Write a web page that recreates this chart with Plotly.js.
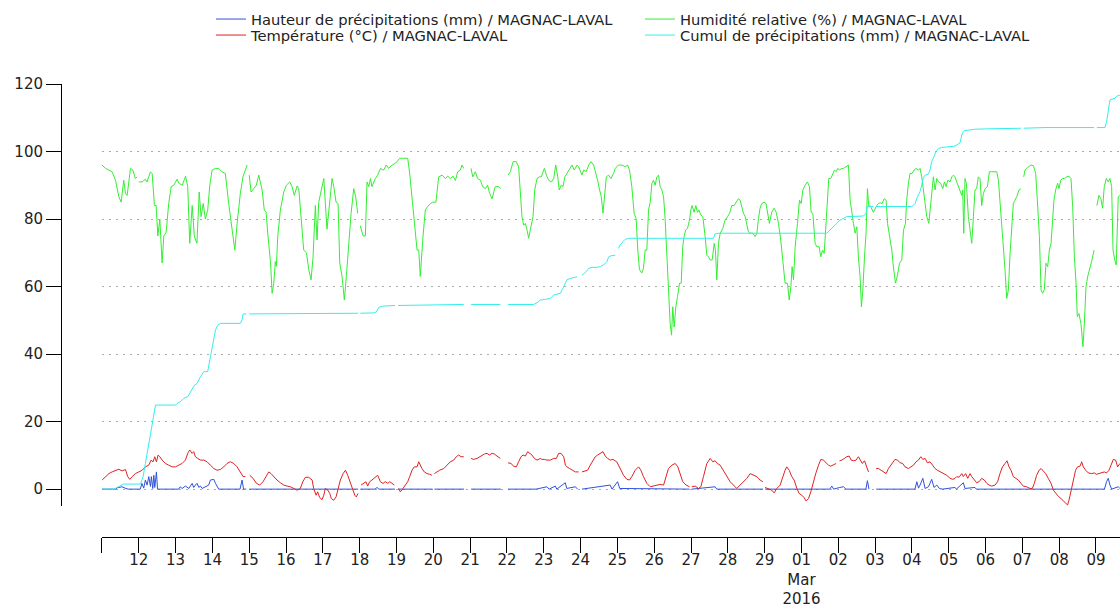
<!DOCTYPE html>
<html>
<head>
<meta charset="utf-8">
<script src="https://cdn.plot.ly/plotly-3.0.1.min.js"></script>
<style>
  html, body { margin: 0; padding: 0; background: #fff; overflow: hidden; }
  #chart { width: 1120px; height: 605px; }
</style>
</head>
<body>
<div id="chart"></div>
<script>
// Time origin: 2016-02-11 00:00 ; all times are hours after it. null = missing data.
const START = Date.UTC(2016, 1, 11);

// Relative humidity (%)
const humHours = [0,2.3,4.5,6.6,8.8,11,12.5,14.2,15.3,16.4,18.6,20.1,21.8,22.9,23.5,24,26.2,28.3,29.4,31.6,32.7,34.2,35.3,36.4,37.7,39.2,40.3,41.8,43.5,45.1,46.8,49,50.1,52.3,54.5,55.9,57.2,58.8,60.2,61.9,63.4,64.6,66,67.4,68.9,70.3,71.8,73.9,76.1,78.2,80.4,82.6,84.7,86.6,88.1,90.2,91.9,93.6,94.6,95.2,96,97.2,98.9,100.6,102.2,104.4,105.8,107,108.2,109.9,110.9,112,113,113.7,114.6,116.3,118.5,120.2,122.4,123.9,125.4,127.2,128.3,129.8,131.5,133.3,134.8,136.3,137.6,139.1,140.2,141.3,142.8,144.6,146.7,148.2,150,151.1,152.6,153.9,155,156.5,158,159.3,160.8,162.4,164.1,165.4,166.7,167.5,168.4,170.2,171.7,172.8,173.9,175,176,178.2,179.7,181.5,183.6,185.4,186.9,189.1,191.3,194.1,196.7,199.3,200.6,202.1,203.6,205.4,206.5,207.5,209.3,210.8,212.3,214.1,215.6,217.7,219.5,221.7,223.9,225.4,227.1,228.9,230.4,231.9,233.6,234.7,235.8,237,240.6,241.7,243.4,244.9,246.7,248.2,249.9,251.4,252.7,254.3,255.4,256.4,258.6,259.7,261,264.7,266.2,268,270.1,271.6,272.7,273.8,274.9,276,277.1,278.2,279.2,281,282.1,283.6,285.3,286.4,288.4,289.7,291.2,293,294.5,295.8,297.1,298.1,299.4,300.5,301.8,303.1,304.9,306.4,307.9,309.7,310.7,312.9,314,315.7,317.3,318.8,320.5,321.8,323.1,324.4,325.5,326.6,327.7,328.8,330.3,331.8,333.5,334.6,336.7,338.9,341.1,342.6,343.9,345.4,346.9,348.2,349.3,350.4,351.9,353,354.1,355.2,356.3,357.4,358.5,359.5,360.6,361.7,362.8,363.9,365,366.1,367.1,368.2,369.3,370.4,371.3,372.1,373,374.1,375.2,376.5,377.6,378.6,379.5,380.4,381.7,383,383.9,384.7,386,387.1,388.2,389.1,390.4,391.7,393.2,394.3,395.4,396.5,397.8,399.1,399.9,400.8,401.9,403,404.7,406.2,407.8,409.1,410.6,412.1,413.4,414.9,416,417.1,418.2,419.3,420.4,421.4,422.5,424.3,425.8,426.9,428,429,430.1,431.6,432.9,434,435.1,436.6,438.2,439.5,441,442.5,443.8,445.3,446.9,448,449.1,449.9,450.8,451.9,453.4,454.7,455.8,456.9,458.4,459.9,461.2,462.3,463.4,464.9,466,467.5,468.6,469.7,470.8,471.9,472.9,473.8,475.1,476.4,477.5,478.6,479.7,480.8,482.3,483.4,484.9,486.6,487.7,488.8,489.9,491,492.1,493.1,494.2,495.1,496,497.1,498.1,499,499.9,500.7,501.8,502.9,504.7,506.2,507.3,508.6,509.9,511.2,512.1,513.3,514.9,515.9,517.3,518.6,519.9,521.4,522.5,523.8,524.6,525.7,526.8,528.1,529.4,530.7,532.2,533.3,534.4,535.5,536.6,537.7,539,539.8,540.9,542,543.1,544.2,545.3,546.8,548.1,549.2,550.3,551.4,552.9,554,555.1,556.1,557.2,558.3,559.4,560.5,561.1,561.8,562.6,563.5,564.8,565.9,567,568.1,569.1,570.2,571.3,572.4,573.5,574.6,575.7,577.2,578.5,580,581.7,583.3,584.4,585.4,586.5,587.6,588.7,589.8,590.9,592,593,594.1,595.2,596.3,597.8,599.1,600,600.9,601.7,602.8,604.3,605.6,607.2,608.7,610,611.1,612.2,613.2,614.3,615.4,616.5,617.6,618.7,619.5,620.6,621.7,623,623.9,625,626.1,627.4,628.9,630.4,631.7,632.8,633.9,635,635.8,636.9,638.2,639.5,640.4,641.5,642.6,644.1,645.4,646.7,648,648.6,649.9,651.2,652.3,653.4,654.7,656,657.1,658.2,659.1,660.2,661.2,662.5,663.6];
const humValues = [96,95,94.5,94,91.5,86.6,85,91.5,87.6,87,95,94.5,92,92.5,null,91,91,91.8,91,94,93.5,84,84,75,80,67,75,76,84.6,89.6,90,91.8,90.6,90,92.7,89.6,72.8,84,75,72.8,88,80.7,84.6,80,82.6,90,94.5,95,95,94,93.5,84.6,76.7,70.8,78.7,87.6,92.5,95,96,null,93,88,89,90,93,88.6,82.7,82,75,67,58,61,67.4,66,75,82.7,88,90,91,89.6,87,89.8,89,80.7,70.8,70,65,62,68.8,84,73.8,85,88,92,77,84.6,92,89.6,85,84.6,67,63,56,63,72.8,81.7,89,86.6,81.7,null,78,75,75,91,89.6,92,89.6,92,93,95,94.5,96,95,96,96.5,98,98,98,93.5,86.6,78.7,70.8,70.8,63,75,82.7,83.7,84.6,85,85,92.5,93,92,92.7,92,92.7,91.4,94,94.5,96,95,null,95,92.5,94,92,91.5,89.6,89,90,87.6,86,88,89.6,89.6,89,null,93,94,97,97,95.5,88.6,80.7,78.2,78.7,76.7,74.3,76.7,80.7,88.6,92,92.5,92.5,95,93,91.5,91,92,96,92.5,88.6,90,89.6,92.5,93.5,94.5,96,94.5,96,95.5,93,94.5,94,96,97,96,94,91.5,88.6,86.6,81.7,87.6,92.5,93,92,93.5,95,96,96,95.5,96,94.5,89.6,81.7,80.2,70.8,65,64,65.4,70.8,70.8,82.7,85,90.6,91.5,90,92.5,93,89.6,88.6,86.6,80.2,68.8,59,49,45.6,54,48,54,57,61,61,71.8,74.8,76.7,77.2,79.7,82.7,84,82,84,82,82.7,81.2,80.7,74.8,69.3,68.8,67.9,67.9,72.8,70.8,62,72.8,75.8,77.2,79.7,80.7,81.7,84,84,85,86,85.6,83.7,81.7,80.7,78.7,76.2,75.8,75.8,74.8,75.8,80.2,83.2,84.6,85,84.6,81.2,78.7,82,83.2,82,78.7,73.8,67.9,61,61,56,60,65.9,62,71.8,78.7,85.6,84.6,88.6,90,91,89.6,82,81.7,72.8,71.8,71.8,68.8,70.8,69.8,78.7,86.6,92,92,93.5,94.5,94,95,94.5,95,95,95.5,96,85.6,81.7,78.7,75.8,77.7,68.8,63,54,59,68.8,75.8,89,83.7,84,82.7,82,83.7,84.6,84.8,84.6,86,85.6,78.7,75.8,70.8,65.9,61,63.4,66.9,67.9,76.7,78.7,85.6,90.6,93.5,93.5,94.5,95,94.5,95,92.5,88.6,84.6,80.7,78.7,82.7,88.6,92.5,88.6,92,91,90.6,89,91,89.6,91.5,91,92.5,93,92.5,91,89.6,88,87,88.6,75.8,92,90.6,80.7,76.7,72.8,80.7,88.6,89,92.5,92,84,87.6,89,89.6,94,94,94,94,91.5,85.6,79.7,71.8,64.9,56.5,59,69.8,78.7,84.6,85.6,86.6,88.6,89,null,92.5,94.5,95,95.5,96,95.8,93.5,83.7,74.8,59,58,59,66.9,65.9,70.8,72.8,78.7,85.6,88.6,90.6,89,91.5,92,92,92.5,92.7,92,83.7,68.8,61,51.1,52,49,42.2,49,60,63,65.4,67.9,70.8,null,84,87,86,83.2,89.6,92,91,92,89.6,70.8,67.9,66.4,86.6,87];

// Temperature (°C)
const tempHours = [0.1,2.3,4.5,6.6,8.8,11,13.1,15.3,16.8,18.1,19.7,21.8,24,26.2,28.3,30.5,32,33.3,34.4,35.5,36.6,37.7,39.2,41.4,43.5,45.7,47.9,50.1,52.2,54.4,55.9,57.2,58.8,59.8,60.9,62.4,64.2,66.4,68.5,70.7,72.9,75,77.2,79.4,81.5,83.7,85.9,88.1,90.2,92,93.5,94.5,96.3,98.5,100.7,102.8,105,107.2,108.7,110.2,112,114.1,116.3,118.5,120.7,122.8,125,127.2,129.3,130.9,132.6,134.8,137,138,139.6,140.6,141.9,143.5,144.6,145.6,147.2,148.5,149.5,151.1,152.6,153.9,155.4,157.2,158.7,160.2,161.9,163.5,164.8,165.8,166.9,167.5,168.9,170.6,172.1,173.2,174.5,176,177.6,178.9,179.7,181.5,183.2,184.7,186.3,187.6,189.1,190.6,191.5,193.4,194.5,196.2,197.8,199.3,200.6,202.1,203.6,205.4,206.5,207.5,208.6,210.1,211.9,213.6,215.1,216,216.7,218.4,220.1,222.8,225,227.1,229.3,231,232.5,234.1,235.8,237,240.6,242.3,244.5,246.2,247.8,249.3,251,252.5,254.3,255.8,257.5,259.7,261,264.7,266.6,268.4,270.1,271.6,273.2,274.5,276,277.5,278.8,280.3,281.9,283.6,285.8,286.9,288.4,290.1,292.3,294.5,296.2,297.7,299.2,301,302.1,303.1,304.9,306.4,308.6,310.7,311.8,312.9,315.1,316.6,318.3,320.1,321.6,323.1,324.9,326.6,328.1,329.6,331.4,333.1,335.6,337.8,340,342.2,343.9,345.4,347.6,349.8,351.3,353,355.2,357.4,359.5,361.7,363.9,366.1,367.8,369.3,371.5,373.7,375.4,376.9,378.6,380.8,383,384,384.5,386.7,388.9,390.4,392.1,394.3,396.5,398.2,399.7,401.2,403,405.1,407.3,409.5,411.7,413.8,416,418.2,420.4,422.5,424.7,426.9,429,430.8,431.5,432.3,434.5,436.6,438.2,439.9,442.1,443.8,445.3,446.4,448,449.7,451.2,453,454.5,456.2,457.7,459,460.6,462.1,463.8,465.3,467.1,468.6,470.3,472.1,473.6,475.1,476.9,478.6,479.7,480.8,482.3,484,485.5,487.1,488.4,489.9,491.6,493.1,494.2,495.7,497.1,498.6,499.7,501,504.7,506.2,507.9,509.4,511.2,512.7,514.9,517,518.6,520.3,522,523.5,525.7,527.5,529,530.7,532.2,533.8,535.1,536.6,538.1,539.8,541.4,543.1,544.6,546.4,548.5,550.7,552.9,554.6,556.1,557.2,558.7,560.5,561.5,563,564.4,565.9,567,568.7,570.2,571.8,573.5,575.2,576.8,578.3,580,582.2,583.9,585.4,587,588.7,590,591.3,592.6,594.1,595.6,597.4,599.1,600.6,602.8,605,606.5,607.8,609.3,610.9,612.2,613.7,615.2,616.9,618.7,620.2,621.7,623.4,625.2,626.7,628.2,629.5,630.4,631.7,633.2,634.7,636,637.6,638.7,639.7,641.3,643,645.2,646.9,648.4,649.9,651.7,653.4,654.9,656.5,657.8,659.3,660.8,662.1,663.6];
const tempValues = [2.7,3.7,4.6,5.1,5.6,5.9,5.4,5.8,3.7,2.9,3.7,4.6,5.1,5.6,6.6,7.1,8.6,8.1,9.6,8.1,10.1,9.6,8.6,7.6,7.1,6.6,6.6,7.1,7.6,8.6,10.6,11.6,10.6,11.1,9.6,9.1,8.6,8.6,8.1,7.1,6.1,5.6,5.8,6.6,7.6,8.1,7.6,6.6,5.1,3.7,3.7,null,4.1,3.2,1.7,1.2,2.2,3.7,5.1,4.6,3.7,2.7,1.9,1.2,0.9,0.7,0.2,-0.3,0.2,2.2,3.5,3.5,2.7,0.2,-1.8,-0.8,-2.5,-3.1,-1.8,0.2,-0.3,-1.3,-2.8,-3.3,-2.3,0.2,2.7,4.6,5.6,4.1,1.7,-0.3,-1.8,-2.3,-1.3,null,1.2,1.7,2.2,0.9,2.2,2.7,3.2,3.7,4.1,2.2,1.7,2.2,1.7,2.2,1.7,1.2,null,0.2,-0.8,0.2,1.2,2.2,3.7,5.6,6.6,6.6,8.1,7.1,6.1,5.1,4.6,4.4,4.1,null,4.6,5.1,5.6,6.1,7.1,8.1,8.6,9.6,10.1,9.6,9.6,null,9.1,8.8,9.1,9.6,10.1,10.4,10.6,10.1,10.6,10.4,9.8,9.1,null,7.8,7.6,6.8,6.6,8.1,9.6,10.1,9.8,11.1,10.6,10.1,9.1,8.6,9.1,8.8,8.8,8.6,8.6,9.1,9.1,10.6,10.6,9.6,7.1,6.6,6.1,5.6,5.1,5.1,null,5.1,5.3,5.6,7.1,8.6,9.6,10.1,10.6,11.1,9.8,9.1,8.6,8.8,8.1,6.1,4.1,2.9,2.7,3.7,5.6,6.6,5.6,3.7,1.7,0.7,0.9,1.2,1.4,1.2,3.7,6.1,7.1,7.6,6.6,4.6,2.2,1.2,0.7,null,0.7,0.9,0.2,0.7,3.7,7.6,9.1,8.1,8.4,7.6,7.1,5.6,3.7,2.2,1.2,0.2,1.2,2.2,3.2,4.6,4.1,3.7,2.7,2.2,null,0.5,0.2,-0.3,-1.1,0.2,1.2,3.7,5.6,6.6,5.6,3.7,2.7,0.2,-1.3,-1.8,-2.5,-3.5,-2.8,-0.8,2.2,4.6,7.1,8.8,8.6,7.8,7.1,6.8,7.1,7.6,null,8.4,8.6,9.1,9.6,9.8,8.6,8.4,8.6,9.6,8.8,7.6,8.4,6.1,5.1,null,6.1,6.1,5.6,5.1,4.6,6.1,7.6,8.8,8.6,7.8,7.6,6.6,6.1,6.6,7.1,8.1,8.6,9.6,8.8,9.1,7.8,8.1,7.1,6.1,5.6,5.1,4.6,4.1,3.2,2.9,3.2,3.7,3.5,4.6,3.7,4.6,3.2,4.6,3.7,2.7,1.9,2.2,3.2,2.7,1.7,1.2,0.9,1.2,2.2,4.6,6.6,7.6,8.4,6.6,5.6,3.7,3.2,2.7,1.7,0.9,0.7,0.2,0.2,1.7,4.1,5.6,6.1,5.4,4.6,3.2,1.7,-0.3,-1.3,-2.1,-2.8,-3.5,-4.2,-4.7,-3.3,-0.3,2.7,5.6,6.6,6.8,8.1,6.6,5.6,4.8,4.6,4.8,4.4,4.6,4.8,5.1,4.8,5.6,7.1,8.8,8.6,6.6,7.6];

// Hourly precipitation (mm)
const rainHours = [0,9,10,13,15,17,25,26,27.2,28.3,29.4,30.5,31.6,32.2,33.1,33.8,34.4,35.5,36.2,50,51,52.2,54.4,56.6,58.8,59.8,60.9,62,63.1,64.2,65.3,69.6,70.7,72.9,74,75,76.1,90,91.3,92.3,94,94.5,96,167,167.5,168.4,178,179.3,180.5,191,191.5,193,215.5,216,216.7,236,237,240.6,260,261,264.7,283,290.1,291.5,295.5,296.5,302,303,308.6,310,311.8,312.9,331.3,332.5,336.1,337.5,383,384,384.5,399.7,400.8,431,431.5,432.3,474.5,475.8,477,481,483.4,485,498,499,500,501,504.7,530,531.2,532.3,533.3,535.1,536.6,538.8,540.9,542.4,544.2,545.9,548,556.1,557,561.5,562.6,569.1,570,653.5,654.9,656,657.1,658.2,662.5,663.6];
const rainValues = [0,0,0.4,0.7,0.3,0,0,1.7,0.3,2.7,1.2,3.7,0.8,3.7,0.2,4.1,0.5,5.1,0,0,0.7,0.2,0.9,0.2,1.7,0.5,1.2,1.7,0.5,0.9,0.2,1.2,2.7,2.9,1.7,0.7,0,0,2.7,0,0,null,0,0,null,0,0,0.5,0,0,null,0,0,null,0,0,null,0,0,null,0,0,0.7,0,0.9,0,1.9,0.2,0.7,0,null,0,1.2,0,2.2,0.2,0,null,0,0.7,0,0,null,0,0,0.9,0,0.5,0.7,0,0,2.5,0,null,0,0,2.2,0.3,1.2,3.2,0.2,0.7,2.9,0.5,1.2,0.2,0,0.5,0,1.9,0.2,0.5,0,0,2.2,3.2,1.2,0,0.7,0.2];

// Cumulative precipitation (mm)
const cumHours = [0,7.7,9.9,12,14.2,25.1,25.5,26.8,28.3,29.9,31.2,32.7,33.8,34.9,47.9,49,51.1,53.3,55.9,57.7,58.8,60.3,62,64.2,66.4,68.9,70.7,72.2,74,75.5,77.2,90.2,91.3,92,94,94.5,96,153.2,167,167.5,168.4,177.1,178.9,180.4,182.6,188,191,191.5,193,223.8,233.6,235.8,237,240.6,259.7,261,264.7,281.4,283.6,285.8,289,292.3,294.5,296.6,298.8,300.5,302,303.1,305.3,309.7,311.8,312.9,315.1,317.3,319.4,322.7,324.9,327,329.2,330.3,331.8,334.6,335.5,336.7,337.8,339.6,341.1,343.2,398.6,399.7,401.9,472.5,474.7,476.9,479,481.2,483.4,485.5,496.4,498.1,499,502.9,503.8,504.7,527.9,529,530.1,531.6,533.3,534.4,535.5,536.6,538.8,539.8,540.9,542.4,543.7,545.3,547.4,556.1,558.3,559.4,560.5,561.5,562.6,569.1,575.7,599.1,600.5,600.9,614.8,646.7,648,648.6,653.9,654.9,656,657.1,660.4,661.5,663.6];
const cumValues = [0,0,0.5,0.9,1.5,1.5,2.2,3.7,7.6,12,15.5,19.5,22.4,24.9,24.9,25.4,25.9,26.9,27.4,28.8,29.8,30.8,31.3,33.3,34.8,34.8,39.2,43.2,47.1,48.6,49.1,49.1,50.1,51.9,51.9,null,51.9,52.1,52.1,null,52.1,52.2,52.5,53.8,54.2,54.4,54.4,null,54.4,54.5,54.5,54.7,null,54.7,54.7,null,54.7,54.7,55.2,56,56.2,56.5,57.5,57.8,58,59.5,61,62,62.4,62.9,null,63.4,64.1,65.4,65.7,65.7,65.9,66.4,67.4,68.8,69.1,69.3,null,71.3,72.3,73.3,74,74.3,74.3,75.6,75.8,75.8,76.7,77.7,78.7,79.7,80.2,80.7,80.9,81.7,83.7,83.7,null,83.7,83.7,84.1,84.6,86.6,88.1,90.1,92.3,93,93.3,94.5,97,98.5,100,100.9,101.2,101.6,102.4,102.6,104.9,105.9,106.2,106.6,106.7,106.9,null,106.9,107.1,107.1,null,107.1,107.1,108.8,112.8,115.3,115.8,116.4,116.7];

// Axis ticks
const tickDates = ['2016-02-11','2016-02-12','2016-02-13','2016-02-14','2016-02-15','2016-02-16','2016-02-17','2016-02-18','2016-02-19','2016-02-20','2016-02-21','2016-02-22','2016-02-23','2016-02-24','2016-02-25','2016-02-26','2016-02-27','2016-02-28','2016-02-29','2016-03-01','2016-03-02','2016-03-03','2016-03-04','2016-03-05','2016-03-06','2016-03-07','2016-03-08','2016-03-09'];
const tickLabels = ['','12','13','14','15','16','17','18','19','20','21','22','23','24','25','26','27','28','29','01<br>Mar<br>2016','02','03','04','05','06','07','08','09'];
const yTicks = [0,20,40,60,80,100,120];

const seriesNames = [
  'Hauteur de précipitations (mm) / MAGNAC-LAVAL',
  'Humidité relative (%) / MAGNAC-LAVAL',
  'Température (°C) / MAGNAC-LAVAL',
  'Cumul de précipitations (mm) / MAGNAC-LAVAL'
];
const seriesColors = ['#2f52dd', '#33ee33', '#e02222', '#33eeee'];
const seriesLegend = ['legend', 'legend', 'legend2', 'legend2'];

function toDate(h) {
  const t = new Date(START + Math.round(h * 3600000));
  const p = n => String(n).padStart(2, '0');
  return t.getUTCFullYear() + '-' + p(t.getUTCMonth() + 1) + '-' + p(t.getUTCDate()) + ' ' +
         p(t.getUTCHours()) + ':' + p(t.getUTCMinutes()) + ':' + p(t.getUTCSeconds());
}

const data = [
  [rainHours, rainValues],
  [humHours, humValues],
  [tempHours, tempValues],
  [cumHours, cumValues]
].map((s, i) => ({
  type: 'scatter',
  mode: 'lines',
  name: seriesNames[i],
  legend: seriesLegend[i],
  x: s[0].map(toDate),
  y: s[1],
  connectgaps: false,
  line: { color: seriesColors[i], width: 1 }
}));

const tickFont = { family: 'DejaVu Sans, sans-serif', size: 15, color: '#222' };
const legendFont = { family: 'DejaVu Sans, sans-serif', size: 14.7, color: '#222' };

function legendBox(y) {
  return {
    orientation: 'h',
    x: 0.1416, xanchor: 'left',
    y: y, yanchor: 'top',
    entrywidth: 384, entrywidthmode: 'pixels',
    itemwidth: 30,
    traceorder: 'normal',
    bgcolor: 'rgba(0,0,0,0)',
    font: legendFont
  };
}

const layout = {
  width: 1120,
  height: 605,
  margin: { l: 61, r: 0, t: 84, b: 68, autoexpand: false },
  paper_bgcolor: '#fff',
  plot_bgcolor: '#fff',
  font: tickFont,
  showlegend: true,
  legend: legendBox(1.1788),
  legend2: legendBox(1.1435),
  xaxis: {
    type: 'date',
    domain: [0.0387, 1],
    range: ['2016-02-11 00:00', '2016-03-09 15:39'],
    anchor: 'free',
    position: 0,
    showline: true,
    linecolor: '#000',
    linewidth: 1,
    ticks: 'outside',
    ticklen: 15,
    tickwidth: 1,
    tickcolor: '#000',
    tickmode: 'array',
    tickvals: tickDates,
    ticktext: tickLabels,
    ticklabelstandoff: -6,
    showgrid: false,
    zeroline: false,
    tickfont: tickFont
  },
  yaxis: {
    domain: [0.0684, 1],
    range: [-5, 120],
    anchor: 'free',
    position: 0,
    showline: true,
    linecolor: '#000',
    linewidth: 1,
    ticks: 'outside',
    ticklen: 15,
    tickwidth: 1,
    tickcolor: '#000',
    tickmode: 'array',
    tickvals: yTicks,
    showgrid: true,
    gridcolor: '#aaaaaa',
    gridwidth: 1,
    griddash: '2px,5px',
    zeroline: false,
    tickfont: tickFont
  }
};

Plotly.newPlot('chart', data, layout, { displayModeBar: false, staticPlot: true });
</script>
</body>
</html>
